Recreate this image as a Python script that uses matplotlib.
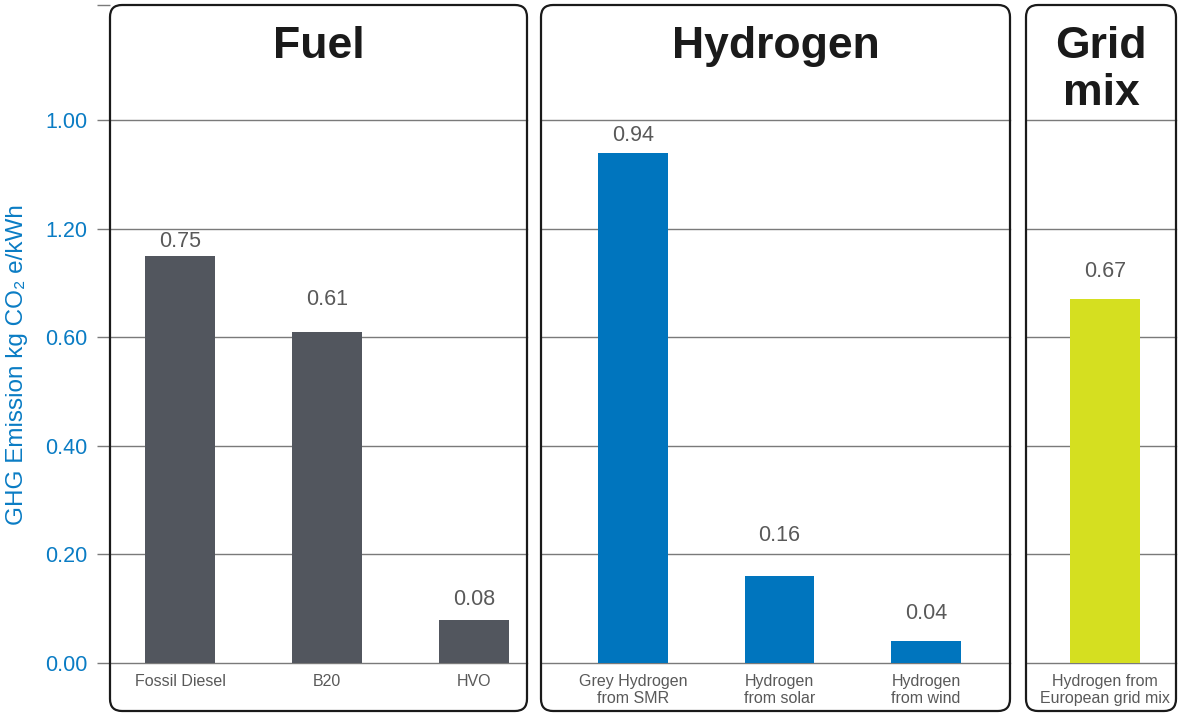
import matplotlib.pyplot as plt
from matplotlib.patches import FancyBboxPatch

plt.rcParams['font.family'] = ['Liberation Sans', 'DejaVu Sans']

# data
fuel_cats = ['Fossil Diesel', 'B20', 'HVO']
fuel_vals = [0.75, 0.61, 0.08]
h2_cats = ['Grey Hydrogen\nfrom SMR', 'Hydrogen\nfrom solar', 'Hydrogen\nfrom wind']
h2_vals = [0.94, 0.16, 0.04]
grid_cats = ['Hydrogen from\nEuropean grid mix']
grid_vals = [0.67]
panel_titles = ['Fuel', 'Hydrogen', 'Grid\nmix']
ytick_vals = [0.0, 0.2, 0.4, 0.6, 0.8, 1.0]
ytick_labels = ['0.00', '0.20', '0.40', '0.60', '1.20', '1.00']

# label gaps above the bars (pixels), they are not even in the original
fuel_gap = [14, 32, 20]
h2_gap = [17, 41, 28]
grid_gap = [28]

W, H = 1178, 713
fig = plt.figure(figsize=(W / 100, H / 100), dpi=100)

blue_txt = '#0a7cc4'
grey_txt = '#595959'
grid_col = '#7a7a7a'
ytop = 1.212


def panel(x0, x1, xlim, cats, vals, gaps, color, title):
    ax = fig.add_axes([x0 / W, 1 - 663 / H, (x1 - x0) / W, (663 - 5) / H])
    ax.set_xlim(xlim)
    ax.set_ylim(0, ytop)
    for v in ytick_vals:
        ax.axhline(v, color=grid_col, lw=1.0, zorder=0, clip_on=False)
    xs = list(range(len(cats)))
    ax.bar(xs, vals, width=0.477, color=color, zorder=2)
    for x, v, g in zip(xs, vals, gaps):
        ax.annotate('%.2f' % v, (x, v), xytext=(0, g * 0.72), textcoords='offset points',
                    ha='center', va='center', fontsize=15.5, color=grey_txt)
    ax.set_xticks(xs)
    ax.set_xticklabels(cats, fontsize=11.5, color=grey_txt, linespacing=1.15)
    ax.tick_params(axis='x', length=0, pad=8)
    for s in ax.spines.values():
        s.set_visible(False)
    ax.patch.set_alpha(0)
    box = FancyBboxPatch((x0 / 100, 2 / 100), (x1 - x0) / 100, (711 - 5) / 100,
                         boxstyle='round,pad=0,rounding_size=0.12',
                         transform=fig.dpi_scale_trans, fc='none', ec='#1a1a1a', lw=1.6)
    fig.add_artist(box)
    lines = title.split('\n')
    for i, t in enumerate(lines):
        fig.text((x0 + x1) / 2 / W, 1 - (58 + 47 * i) / H, t, ha='center', va='baseline',
                 fontsize=32, fontweight='bold', color='#1a1a1a')
    return ax


ax1 = panel(110, 527, (-0.476, 2.36), fuel_cats, fuel_vals, fuel_gap, '#52565e', panel_titles[0])
ax2 = panel(541, 1010, (-0.628, 2.573), h2_cats, h2_vals, h2_gap, '#0075be', panel_titles[1])
ax3 = panel(1026, 1176, (-0.54, 0.484), grid_cats, grid_vals, grid_gap, '#d5df20', panel_titles[2])

ax1.set_yticks(ytick_vals + [ytop])
ax1.set_yticklabels(ytick_labels + [''])
ax1.tick_params(axis='y', length=9.4, width=1, color=grid_col, labelcolor=blue_txt,
                labelsize=15.5, pad=7)
for ax in (ax2, ax3):
    ax.set_yticks([])

fig.text(17 / W, 1 - 365 / H, 'GHG Emission kg CO\u2082 e/kWh', rotation=90,
         ha='center', va='center', fontsize=17.5, color=blue_txt)

fig.savefig('out.png', dpi=100)
